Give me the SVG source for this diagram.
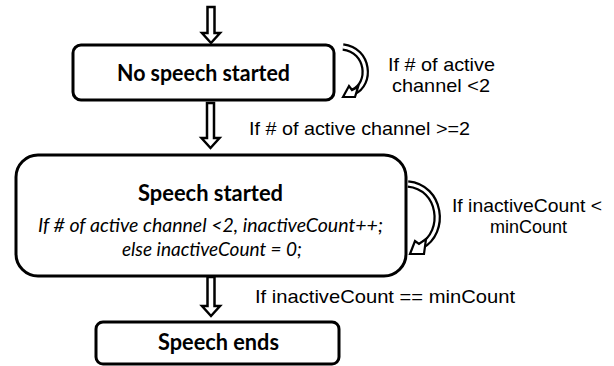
<svg xmlns="http://www.w3.org/2000/svg" width="614" height="366" viewBox="0 0 614 366">
<style>
.box{fill:#fff;stroke:#000;stroke-width:3}
.nt{font-family:Lato,"Open Sans","Liberation Sans",sans-serif;font-weight:bold;font-size:22px;text-anchor:middle;fill:#000}
.it{font-family:Lato,"Open Sans","Liberation Sans",sans-serif;font-style:italic;font-size:20px;text-anchor:middle;fill:#000}
.lb{font-family:"Liberation Sans",Arial,sans-serif;font-size:19px;fill:#000}
.harrow{fill:#fff;stroke:#000;stroke-width:2.5;stroke-linejoin:miter}
.arcO{fill:none;stroke:#000;stroke-width:7.5}
.arcI{fill:none;stroke:#fff;stroke-width:3}
.ah{fill:#fff;stroke:#000;stroke-width:2.2;stroke-linejoin:miter}
</style>
<g id="n1">
<rect class="box" x="73" y="45" width="261" height="55" rx="8"/>
<text class="nt" x="203.5" y="81" textLength="173" lengthAdjust="spacingAndGlyphs">No speech started</text>
</g>
<g id="n2">
<rect class="box" x="16" y="155" width="390" height="121" rx="22"/>
<text class="nt" x="210.5" y="201" textLength="145" lengthAdjust="spacingAndGlyphs">Speech started</text>
<text class="it" x="210.5" y="232" textLength="345" lengthAdjust="spacingAndGlyphs">If # of active channel &lt;2, inactiveCount++;</text>
<text class="it" x="212" y="256" textLength="180" lengthAdjust="spacingAndGlyphs">else inactiveCount = 0;</text>
</g>
<g id="n3">
<rect class="box" x="96" y="322" width="243" height="42" rx="7"/>
<text class="nt" x="218.5" y="350" textLength="121" lengthAdjust="spacingAndGlyphs">Speech ends</text>
</g>
<g id="connectors">
<polygon class="harrow" points="207.5,7 214.5,7 214.5,33 220,33 211,43 202,33 207.5,33"/>
<polygon class="harrow" points="207,103 214,103 214,138 219.5,138 210.5,148 201.5,138 207,138"/>
<polygon class="harrow" points="207.5,277 214.5,277 214.5,306 220,306 211,316 202,306 207.5,306"/>
<path class="arcO" d="M343,47 C369,50 372,84 353,92"/>
<path class="arcI" d="M343,47 C369,50 372,84 353,92"/>
<polygon class="ah" points="343,97 349,86 352,90 358,87 355,97"/>
<path class="arcO" d="M408,184 C441,187 447,232 421,246"/>
<path class="arcI" d="M408,184 C441,187 447,232 421,246"/>
<polygon class="ah" points="410,254 415,241 419,244 426,239 424,254"/>
</g>
<g id="labels">
<text class="lb" x="441.5" y="71" text-anchor="middle" textLength="107" lengthAdjust="spacingAndGlyphs">If # of active</text>
<text class="lb" x="441" y="92" text-anchor="middle" textLength="98" lengthAdjust="spacingAndGlyphs">channel &lt;2</text>
<text class="lb" x="249" y="135" textLength="221" lengthAdjust="spacingAndGlyphs">If # of active channel &gt;=2</text>
<text class="lb" x="527" y="212" text-anchor="middle" textLength="150" lengthAdjust="spacingAndGlyphs">If inactiveCount &lt;</text>
<text class="lb" x="528.5" y="233" text-anchor="middle" textLength="77" lengthAdjust="spacingAndGlyphs">minCount</text>
<text class="lb" x="255" y="303" textLength="260" lengthAdjust="spacingAndGlyphs">If inactiveCount == minCount</text>
</g>
</svg>
